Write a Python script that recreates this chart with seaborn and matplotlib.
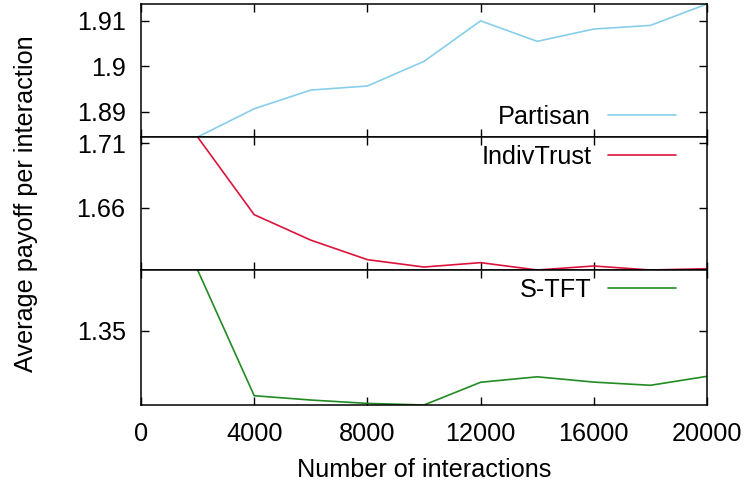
import matplotlib
matplotlib.use('Agg')
import matplotlib.pyplot as plt
import seaborn as sns
import pandas as pd

# values
interactions = [2000, 4000, 6000, 8000, 10000, 12000, 14000, 16000, 18000, 20000]
partisan = [1.8845, 1.8907, 1.8948, 1.8957, 1.9011, 1.9100, 1.9055, 1.9082, 1.9090, 1.9137]
indiv_trust = [1.7149, 1.6548, 1.6351, 1.6200, 1.6143, 1.6177, 1.6120, 1.6151, 1.6120, 1.6130]
s_tft = [1.3879, 1.3094, 1.3067, 1.3046, 1.3036, 1.3178, 1.3212, 1.3179, 1.3159, 1.3215]

names = ['Partisan', 'IndivTrust', 'S-TFT']
colors = ['#87ceeb', '#dc143c', '#228b22']
yticks = [[1.89, 1.90, 1.91], [1.66, 1.71], [1.35]]
yticklabels = [['1.89', '1.9', '1.91'], ['1.66', '1.71'], ['1.35']]
xticks = [0, 4000, 8000, 12000, 16000, 20000]
legend_y = [0.15, 0.85, 0.852]

sns.set_style('ticks')
plt.rcParams['font.family'] = ['Liberation Sans', 'DejaVu Sans']
plt.rcParams['text.color'] = 'black'
plt.rcParams['axes.labelcolor'] = 'black'
fs = 18.2

fig = plt.figure(figsize=(7.48, 4.83), dpi=100)
left, right = 141 / 748, 707 / 748
tops = [4, 137, 270]
bots = [137, 270, 405]
axes = []
for i, series in enumerate([partisan, indiv_trust, s_tft]):
    y0 = 1 - bots[i] / 483
    h = (bots[i] - tops[i]) / 483
    ax = fig.add_axes([left, y0, right - left, h])
    df = pd.DataFrame({'x': interactions, 'y': series})
    sns.lineplot(data=df, x='x', y='y', ax=ax, color=colors[i], linewidth=1.2, label=names[i])
    ax.set_xlim(0, 20000)
    ax.set_ylim(min(series), max(series))
    ax.set_xticks(xticks)
    ax.set_yticks(yticks[i])
    ax.set_yticklabels(yticklabels[i])
    ax.tick_params(direction='in', top=True, right=True, length=5.5, width=1,
                   labelsize=fs, pad=11, colors='black')
    for s in ax.spines.values():
        s.set_visible(True)
        s.set_linewidth(1.1)
        s.set_color('black')
    ax.set_xlabel('')
    ax.set_ylabel('')
    if i < 2:
        ax.tick_params(labelbottom=False)
    leg = ax.legend(loc='center right', bbox_to_anchor=(0.945, legend_y[i]), frameon=False,
                    markerfirst=False, fontsize=fs, handlelength=2.7, handletextpad=0.65,
                    borderpad=0, borderaxespad=0)
    for t in leg.get_texts():
        t.set_color('black')
    axes.append(ax)

axes[2].set_xticklabels([str(v) for v in xticks])
axes[2].tick_params(axis='x', pad=12)
axes[2].set_xlabel('Number of interactions', fontsize=fs, labelpad=9)
axes[1].set_ylabel('Average payoff per interaction', fontsize=fs, labelpad=28)

fig.savefig('out.png', dpi=100)
